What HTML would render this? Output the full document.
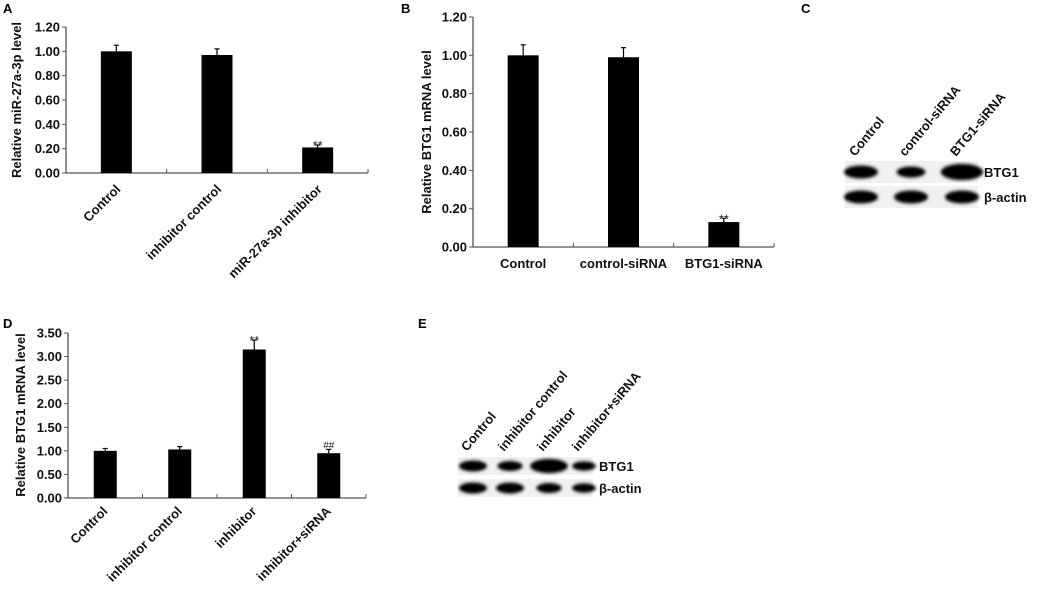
<!DOCTYPE html>
<html><head><meta charset="utf-8">
<style>
html,body{margin:0;padding:0;background:#fff;}
svg{display:block;font-family:"Liberation Sans",Arial,sans-serif;font-weight:bold;}
</style></head>
<body>
<svg id="fig" width="1043" height="593" viewBox="0 0 1043 593" xmlns="http://www.w3.org/2000/svg">
<defs>
<filter id="blur" x="-20%" y="-50%" width="140%" height="200%"><feGaussianBlur stdDeviation="1.6"/></filter>
</defs>
</svg>
<script>
// Panel A data
const catsA = ["Control","inhibitor control","miR-27a-3p inhibitor"];
const valsA = [1.00, 0.97, 0.21];
const errA = [0.05, 0.05, 0.02];
const sigA = ["", "", "**"];
const ticksA = ["0.00","0.20","0.40","0.60","0.80","1.00","1.20"];
// Panel B data
const catsB = ["Control","control-siRNA","BTG1-siRNA"];
const valsB = [1.00, 0.99, 0.13];
const errB = [0.055, 0.05, 0.02];
const sigB = ["", "", "**"];
const ticksB = ["0.00","0.20","0.40","0.60","0.80","1.00","1.20"];
// Panel D data
const catsD = ["Control","inhibitor control","inhibitor","inhibitor+siRNA"];
const valsD = [1.00, 1.03, 3.15, 0.95];
const errD = [0.05, 0.06, 0.20, 0.08];
const sigD = ["", "", "**", "##"];
const ticksD = ["0.00","0.50","1.00","1.50","2.00","2.50","3.00","3.50"];
// Blot lanes
const lanesC = ["Control","control-siRNA","BTG1-siRNA"];
const btgC = [1.0, 0.85, 1.25];
const actC = [1.0, 1.0, 1.0];
const lanesE = ["Control","inhibitor control","inhibitor","inhibitor+siRNA"];
const btgE = [1.0, 0.9, 1.35, 0.85];
const actE = [1.0, 1.0, 0.9, 0.85];

const NS = "http://www.w3.org/2000/svg";
const svg = document.getElementById("fig");
function el(tag, attrs, parent, text){
  const e = document.createElementNS(NS, tag);
  for (const k in attrs) e.setAttribute(k, attrs[k]);
  if (text !== undefined) e.textContent = text;
  (parent || svg).appendChild(e);
  return e;
}

function barChart(o){
  const g = el("g", {});
  
  
  const ymax = parseFloat(o.ticks[o.ticks.length-1]);
  const y = v => o.y0 - (v / ymax) * (o.y0 - o.y1);
  const n = o.cats.length;
  const bw = (o.x1 - o.x0) / n;
  const xc = i => o.x0 + bw * (i + 0.5);
  const ya = el("line", {x1:o.x0, y1:o.y1, x2:o.x0, y2:o.y0, stroke:"#555", "stroke-width":1.3}, g);
  
  
  const xa = el("line", {x1:o.x0, y1:o.y0, x2:o.x1, y2:o.y0, stroke:"#555", "stroke-width":1.3}, g);
  
  
  for (let i = 1; i <= n; i++) {
    el("line", {x1:o.x0 + bw*i, y1:o.y0, x2:o.x0 + bw*i, y2:o.y0 - 4, stroke:"#555", "stroke-width":1}, g);
  }
  o.ticks.forEach(t => {
    const v = parseFloat(t);
    el("line", {x1:o.x0 - 4, y1:y(v), x2:o.x0, y2:y(v), stroke:"#555", "stroke-width":1}, g);
    const tl = el("text", {x:o.x0 - 6, y:y(v) + 4.5, "text-anchor":"end", "font-size":13, fill:"#111"}, g, t);
    
    
  });
  o.vals.forEach((v, i) => {
    const cx = xc(i);
    const b = el("rect", {x:cx - o.barW/2, y:y(v), width:o.barW, height:o.y0 - y(v), fill:"#000"}, g);
    
    
    const et = y(v + o.err[i]);
    el("line", {x1:cx, y1:y(v), x2:cx, y2:et, stroke:"#000", "stroke-width":1.2}, g);
    el("line", {x1:cx - 2.5, y1:et, x2:cx + 2.5, y2:et, stroke:"#000", "stroke-width":1.2}, g);
    if (o.sig[i]) {
      const isStar = o.sig[i].indexOf("*") >= 0;
      const s = el("text", {x:cx, y: isStar ? et + 5 : et - 1, "text-anchor":"middle", "font-size":isStar ? 13 : 10, "font-weight":"normal", fill:"#222"}, g, o.sig[i]);
      
      
    }
    let lab;
    if (o.rotate) {
      const lx = cx + o.labDx, ly = o.labY;
      lab = el("text", {x:lx, y:ly, "text-anchor":"end", "font-size":13, fill:"#111", transform:`rotate(-45 ${lx} ${ly})`}, g, o.cats[i]);
    } else {
      lab = el("text", {x:cx, y:o.labY, "text-anchor":"middle", "font-size":13, fill:"#111"}, g, o.cats[i]);
    }
    
    
  });
  const tx = o.titleX, ty = o.titleY;
  const title = el("text", {x:tx, y:ty, "text-anchor":"middle", "font-size":13, fill:"#111", transform:`rotate(-90 ${tx} ${ty})`}, g, o.title);
  
  
  const pl = el("text", {x:o.letter[0], y:o.letter[1], "font-size":13, fill:"#000"}, g, o.letterText);
  
  
}

barChart({name:"chart-a", cats:catsA, vals:valsA, err:errA, sig:sigA, ticks:ticksA,
  x0:66, x1:368, y0:173, y1:27, barW:31, rotate:true, labDx:5, labY:190,
  title:"Relative miR-27a-3p level", titleX:21, titleY:100, letter:[3,13], letterText:"A"});
barChart({name:"chart-b", cats:catsB, vals:valsB, err:errB, sig:sigB, ticks:ticksB,
  x0:473, x1:774, y0:247, y1:17, barW:31, rotate:false, labY:268,
  title:"Relative BTG1 mRNA level", titleX:431, titleY:132, letter:[401,13], letterText:"B"});
barChart({name:"chart-d", cats:catsD, vals:valsD, err:errD, sig:sigD, ticks:ticksD,
  x0:68, x1:366, y0:498, y1:333, barW:23, rotate:true, labDx:3, labY:512,
  title:"Relative BTG1 mRNA level", titleX:25, titleY:415, letter:[3,328], letterText:"D"});

function blot(o){
  const g = el("g", {});
  
  
  const rows = [[o.btg, o.r1], [o.act, o.r2]];
  rows.forEach(([arr, ry]) => {
    el("rect", {x:o.bx0, y:ry - o.rh/2, width:o.bx1 - o.bx0, height:o.rh, fill:"#f1f1f1"}, g);
    arr.forEach((s, i) => {
      const band = el("ellipse", {cx:o.lanes[i], cy:ry, rx:o.bw/2 * s, ry:o.bh/2 * Math.min(1.3, s), fill:"#000", filter:"url(#blur)"}, g);
      
      
    });
  });
  const l1 = el("text", {x:o.bx1 + 6, y:o.r1 + 5, "font-size":13, fill:"#111"}, g, "BTG1");
  
  
  const l2 = el("text", {x:o.bx1 + 6, y:o.r2 + 5, "font-size":13, fill:"#111"}, g, "β-actin");
  
  
  o.names.forEach((nm, i) => {
    const lx = o.lanes[i] - 6, ly = o.labY;
    const t = el("text", {x:lx, y:ly, "font-size":13, fill:"#111", transform:`rotate(-50 ${lx} ${ly})`}, g, nm);
    
    
  });
  const pl = el("text", {x:o.letter[0], y:o.letter[1], "font-size":13, fill:"#000"}, g, o.letterText);
  
  
}

blot({name:"blot-c", names:lanesC, btg:btgC, act:actC, lanes:[861,911,962],
  bx0:845, bx1:978, r1:172, r2:197, rh:22, bw:34, bh:13, labY:157, letter:[801,13], letterText:"C"});
blot({name:"blot-e", names:lanesE, btg:btgE, act:actE, lanes:[473,510,549,584],
  bx0:458, bx1:593, r1:466, r2:488, rh:18, bw:28, bh:11, labY:452, letter:[418,328], letterText:"E"});
</script>
</body></html>
